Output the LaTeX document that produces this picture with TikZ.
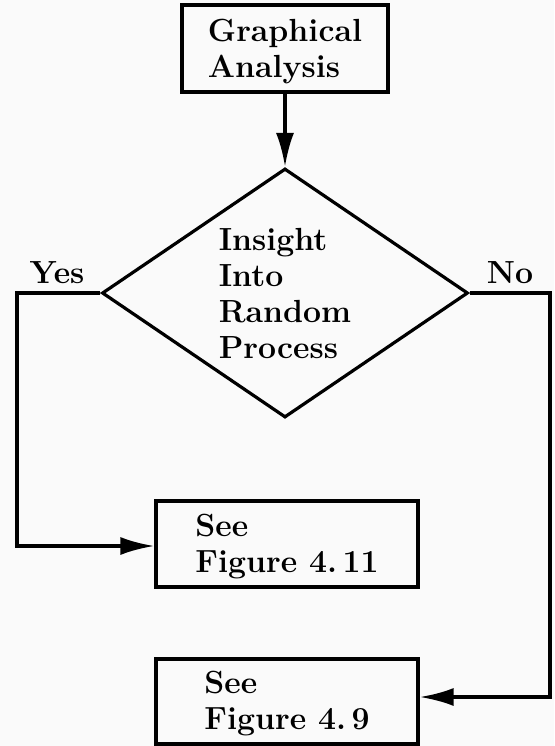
\documentclass[tikz,border=0pt]{standalone}
\usetikzlibrary{arrows.meta,shapes.geometric,calc}
\begin{document}
\begin{tikzpicture}[x=1pt,y=-1pt,
  lbl/.style={font=\fontsize{32}{36}\selectfont\bfseries},
  boxnode/.style={draw=black,line width=3.2pt,rectangle,inner sep=0pt,align=left,lbl},
  decision/.style={draw=black,line width=3.2pt,diamond,inner sep=0pt,aspect=1.47,align=left,lbl},
  conn/.style={draw=black,line width=3.6pt,line join=miter,-{Latex[length=34pt,width=18pt]}}]
\fill[black!2] (0,0) rectangle (554,746);
\useasboundingbox (0,0) rectangle (554,746);
\node[boxnode,minimum width=206pt,minimum height=87pt] (g) at (285,48.5) {\rule{0pt}{28pt}Graphical\\Analysis};
\node[decision,minimum width=366pt,minimum height=249pt] (d) at (285,293) {\rule{0pt}{24pt}Insight\\Into\\Random\\Process};
\node[boxnode,minimum width=262pt,minimum height=86pt] (f11) at (287,544) {\rule{0pt}{27pt}See\\Figure 4.\,11};
\node[boxnode,minimum width=262pt,minimum height=85pt] (f9) at (287,701.5) {\rule{0pt}{27pt}See\\Figure 4.\,9};
\node[lbl,anchor=base] (yes) at (57,283) {Yes};
\node[lbl,anchor=base] (no) at (510,283) {No};
\coordinate (yl) at (17,293);
\coordinate (nr) at (550,293);
\draw[conn] (g.south) -- (d.north);
\draw[conn] (d.west) -- (yl) |- ([yshift=-2pt]f11.west);
\draw[conn] (d.east) -- (nr) |- ([yshift=4.5pt]f9.east);
\end{tikzpicture}
\end{document}
